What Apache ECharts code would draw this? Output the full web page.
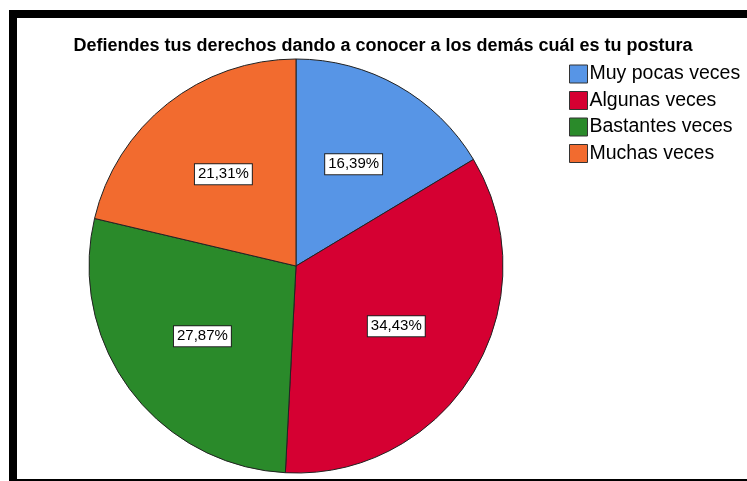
<!DOCTYPE html>
<html>
<head>
<meta charset="utf-8">
<script src="https://cdn.jsdelivr.net/npm/echarts@6/dist/echarts.min.js"></script>
<style>
  html, body { margin: 0; padding: 0; background: #fff; }
  #wrap { position: relative; width: 747px; height: 481px; overflow: hidden; }
  #chart { position: absolute; left: 0; top: 0; width: 747px; height: 481px; }
  .frame { position: absolute; background: #000; }
</style>
</head>
<body>
<div id="wrap">
  <div id="chart"></div>
  <div class="frame" style="left:9px; top:10px; width:738px; height:8px;"></div>
  <div class="frame" style="left:9px; top:10px; width:8px; height:471px;"></div>
  <div class="frame" style="left:9px; top:479px; width:738px; height:2px;"></div>
</div>
<script>
var categories = ["Muy pocas veces", "Algunas veces", "Bastantes veces", "Muchas veces"];
var counts = [10, 21, 17, 13];
var colors = ["#5795E6", "#D50032", "#2A8A2A", "#F26B2F"];

var total = counts.reduce(function (a, b) { return a + b; }, 0);
var pieData = categories.map(function (c, i) {
  return { name: c, value: counts[i], itemStyle: { color: colors[i] } };
});

var chart = echarts.init(document.getElementById("chart"));
chart.setOption({
  animation: false,
  title: {
    text: "Defiendes tus derechos dando a conocer a los demás cuál es tu postura",
    left: 383,
    textAlign: "center",
    top: 37,
    padding: 0,
    textStyle: { fontFamily: "Liberation Sans", fontSize: 18, fontWeight: "bold", color: "#000" }
  },
  legend: {
    orient: "vertical",
    left: 569,
    top: 64,
    padding: 0,
    itemWidth: 18,
    itemHeight: 18,
    itemGap: 6.5,
    icon: "rect",
    data: categories,
    itemStyle: { borderColor: "#333", borderWidth: 1 },
    textStyle: { fontFamily: "Liberation Sans", fontSize: 19.5, color: "#000", padding: [0, 0, 0, -3] }
  },
  series: [
    {
      type: "pie",
      center: [296, 266],
      radius: [0, 207],
      startAngle: 90,
      clockwise: true,
      label: { show: false },
      labelLine: { show: false },
      itemStyle: { borderColor: "#222", borderWidth: 1 },
      emphasis: { disabled: true },
      data: pieData
    },
    {
      type: "pie",
      center: [296, 266],
      radius: [0, 228],
      startAngle: 90,
      clockwise: true,
      silent: true,
      legendHoverLink: false,
      itemStyle: { color: "rgba(0,0,0,0)", borderWidth: 0 },
      emphasis: { disabled: true },
      label: {
        show: true,
        position: "inside",
        formatter: function (p) {
          return (p.value / total * 100).toFixed(2).replace(".", ",") + "%";
        },
        fontFamily: "Liberation Sans",
        fontSize: 15,
        color: "#000",
        backgroundColor: "#fff",
        borderColor: "#222",
        borderWidth: 1,
        padding: [3, 3, 2, 3]
      },
      labelLine: { show: false },
      data: categories.map(function (c, i) { return { name: c, value: counts[i] }; })
    }
  ]
});
</script>
</body>
</html>
